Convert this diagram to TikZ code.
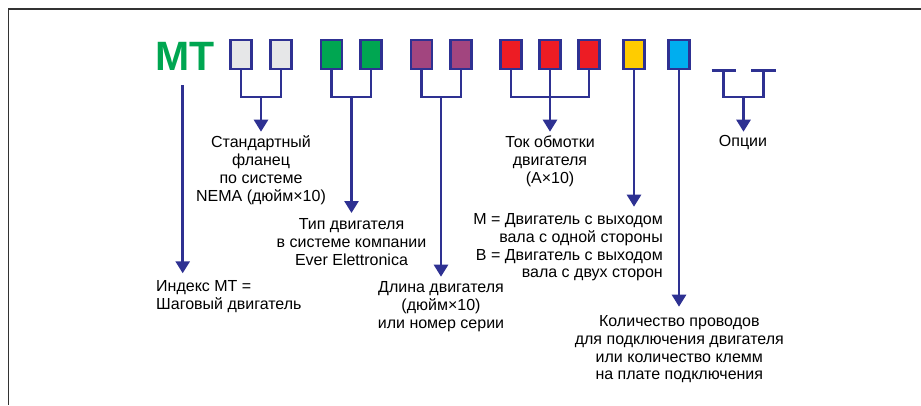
\documentclass[tikz,border=0pt]{standalone}
\usepackage{fontspec}
\setmainfont{Liberation Sans}
\usetikzlibrary{arrows.meta}
\definecolor{navy}{HTML}{2E3192}
\definecolor{mtgreen}{HTML}{00A651}
\definecolor{cgray}{HTML}{E6E7E8}
\definecolor{cpurple}{HTML}{A2457F}
\definecolor{cred}{HTML}{ED1C24}
\definecolor{cyellow}{HTML}{FFCC00}
\definecolor{cblue}{HTML}{00AEEF}
\definecolor{framegray}{HTML}{333333}
\begin{document}
\begin{tikzpicture}[x=1pt,y=-1pt,
  cell/.style={draw=navy, line width=2.4pt, minimum width=21pt, minimum height=28.5pt, inner sep=0pt, anchor=center},
  wire/.style={draw=navy, line width=2.7pt, line join=miter},
  arr/.style={wire, -{Triangle[length=12pt,width=14pt]}},
  lbl/.style={inner sep=0pt, font=\fontsize{16}{17.9}\selectfont, align=center, anchor=north},
  frameline/.style={draw=framegray, line width=1.6pt}
]
\useasboundingbox (0,0) rectangle (921,405);
\draw[frameline] (921,9) -- (8.5,9) -- (8.5,405);

% MT
\node[inner sep=0pt, anchor=base west, text=mtgreen, font=\fontsize{41}{41}\selectfont\bfseries] (mt) at (155,70) {MT};

% boxes
\node[cell, fill=cgray]   (b1)  at (241,54.5) {};
\node[cell, fill=cgray]   (b2)  at (281,54.5) {};
\node[cell, fill=mtgreen] (b3)  at (331.5,54.5) {};
\node[cell, fill=mtgreen] (b4)  at (371,54.5) {};
\node[cell, fill=cpurple] (b5)  at (421.5,54.5) {};
\node[cell, fill=cpurple] (b6)  at (461,54.5) {};
\node[cell, fill=cred]    (b7)  at (511,54.5) {};
\node[cell, fill=cred]    (b8)  at (550,54.5) {};
\node[cell, fill=cred]    (b9)  at (589,54.5) {};
\node[cell, fill=cyellow] (b10) at (634,54.5) {};
\node[cell, fill=cblue]   (b11) at (679,54.5) {};

% labels
\node[lbl] (flange) at (261,135.5) {Стандартный\\фланец\\по системе\\NEMA (дюйм×10)};
\node[lbl] (type) at (351.5,218) {Тип двигателя\\в системе компании\\Ever Elettronica};
\node[lbl, align=left, anchor=north west] (index) at (156,280.5) {Индекс МТ =\\Шаговый двигатель};
\node[lbl] (length) at (441,281) {Длина двигателя\\(дюйм×10)\\или номер серии};
\node[lbl] (current) at (550,135.5) {Ток обмотки\\двигателя\\(A×10)};
\node[lbl] (options) at (743,135.5) {Опции};
\node[lbl, align=right, anchor=north east] (shaft) at (663,213) {M = Двигатель с выходом\\вала с одной стороны\\B = Двигатель с выходом\\вала с двух сторон};
\node[lbl] (wires) at (679.3,315) {Количество проводов\\для подключения двигателя\\или количество клемм\\на плате подключения};

% junction coordinates
\coordinate (j1) at (261,97);
\coordinate (j2) at (351.5,97);
\coordinate (j3) at (441,97);
\coordinate (j4) at (550,97);
\coordinate (o1) at (723.5,70.5);
\coordinate (o2) at (763.5,70.5);
\coordinate (j5) at (743.5,97);
\coordinate (mts) at (182.7,85);

% arrow tips
\coordinate (t1) at (261,131.7);
\coordinate (t2) at (351.5,213);
\coordinate (t3) at (441,276.7);
\coordinate (t4) at (550,131.7);
\coordinate (t5) at (743.5,131.7);
\coordinate (t6) at (182.7,273.3);
\coordinate (t7) at (634,206.7);
\coordinate (t8) at (679,306.7);

% brackets
\draw[wire] (b1.south) |- (j1) -| (b2.south);
\draw[arr] (j1) -- (t1);
\draw[wire] (b3.south) |- (j2) -| (b4.south);
\draw[arr] (j2) -- (t2);
\draw[wire] (b5.south) |- (j3) -| (b6.south);
\draw[arr] (j3) -- (t3);
\draw[wire] (b7.south) |- (j4) -| (b9.south);
\draw[wire] (b8.south) -- (j4);
\draw[arr] (j4) -- (t4);
\draw[wire] ([xshift=-12pt]o1) -- ([xshift=12.5pt]o1);
\draw[wire] ([xshift=-12.5pt]o2) -- ([xshift=12pt]o2);
\draw[wire] (o1) |- (j5) -| (o2);
\draw[arr] (j5) -- (t5);
\draw[arr] (mts) -- (t6);
\draw[arr] (b10.south) -- (t7);
\draw[arr] (b11.south) -- (t8);
\end{tikzpicture}
\end{document}
